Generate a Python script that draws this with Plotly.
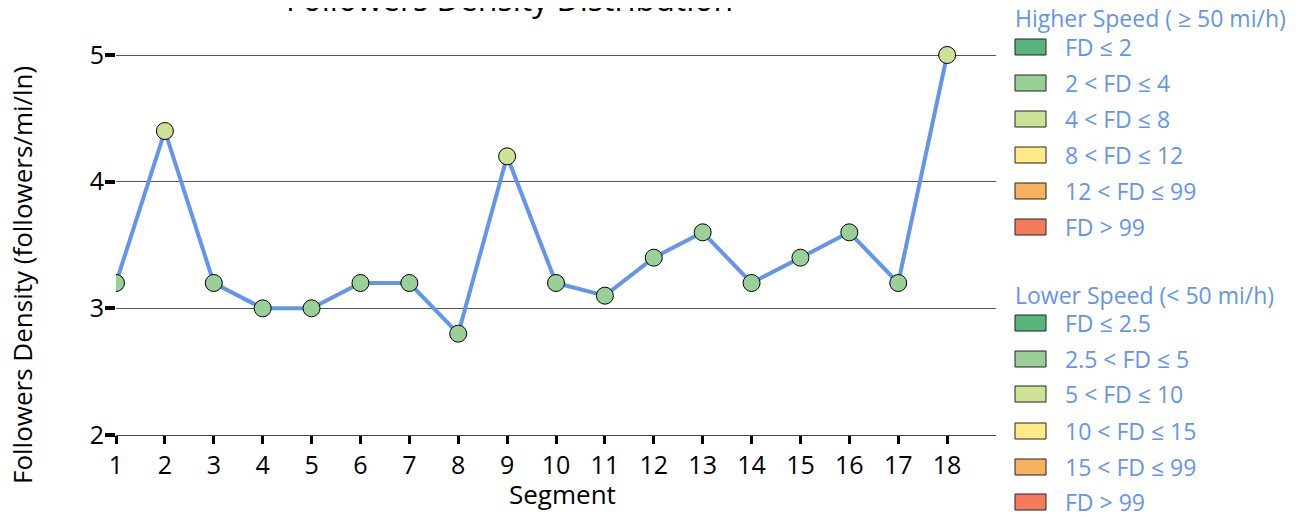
import plotly.graph_objects as go

segments = list(range(1, 19))
followers_density = [3.2, 4.4, 3.2, 3.0, 3.0, 3.2, 3.2, 2.8, 4.2, 3.2, 3.1, 3.4, 3.6, 3.2, 3.4, 3.6, 3.2, 5.0]

class_colors = ['#58b47c', '#98d098', '#cde294', '#ffea87', '#f6b260', '#f47a5c']
high_speed_bins = [2, 4, 8, 12, 99]
high_speed_labels = ['FD ≤ 2', '2 < FD ≤ 4', '4 < FD ≤ 8', '8 < FD ≤ 12', '12 < FD ≤ 99', 'FD > 99']
low_speed_labels = ['FD ≤ 2.5', '2.5 < FD ≤ 5', '5 < FD ≤ 10', '10 < FD ≤ 15', '15 < FD ≤ 99', 'FD > 99']

FONT = 'Open Sans'
LEGEND_COLOR = '#6495ED'

# page has an 8px body margin; plot area given in figure pixels
OFF = 8
PL, PR, PT, PB = 116 - OFF, 996 - OFF, 17 - OFF, 435 - OFF


def px_x(p):
    # p is a screen pixel
    return (p - OFF - PL) / (PR - PL)


def px_y(p):
    return (PB - (p - OFF)) / (PB - PT)


def fd_color(v):
    for i, b in enumerate(high_speed_bins):
        if v <= b:
            return class_colors[i]
    return class_colors[-1]


marker_colors = [fd_color(v) for v in followers_density]

fig = go.Figure()
fig.add_trace(go.Scatter(
    x=segments, y=followers_density, mode='lines+markers',
    line=dict(color='#6495ED', width=4),
    marker=dict(size=17, color=marker_colors, line=dict(color='black', width=1)),
    showlegend=False,
))

shapes = []
annotations = []


def legend_group(title, labels, title_y, item_ys):
    annotations.append(dict(
        x=px_x(1013), y=px_y(title_y), xref='paper', yref='paper',
        text=title, showarrow=False, xanchor='left', yanchor='middle',
        font=dict(family=FONT, size=23, color=LEGEND_COLOR)))
    for lab, col, cy in zip(labels, class_colors, item_ys):
        shapes.append(dict(
            type='rect', xref='paper', yref='paper',
            x0=px_x(1015), x1=px_x(1046), y0=px_y(cy - 8), y1=px_y(cy + 8),
            fillcolor=col, line=dict(color='#222', width=1)))
        annotations.append(dict(
            x=px_x(1063), y=px_y(cy), xref='paper', yref='paper',
            text=lab, showarrow=False, xanchor='left', yanchor='middle',
            font=dict(family=FONT, size=23, color=LEGEND_COLOR)))


legend_group('Higher Speed ( ≥ 50 mi/h)', high_speed_labels, 18, [47, 83, 119, 155, 191, 227])
legend_group('Lower Speed (< 50 mi/h)', low_speed_labels, 295, [323, 359, 394, 431, 467, 502])

annotations.append(dict(
    x=px_x(509), y=px_y(-2), xref='paper', yref='paper',
    text='Followers Density Distribution', showarrow=False,
    xanchor='center', yanchor='middle',
    font=dict(family=FONT, size=32, color='black')))
annotations.append(dict(
    x=px_x(562), y=px_y(494), xref='paper', yref='paper',
    text='Segment', showarrow=False,
    xanchor='center', yanchor='middle',
    font=dict(family=FONT, size=26, color='black')))
annotations.append(dict(
    x=px_x(22), y=px_y(275), xref='paper', yref='paper',
    text='Followers Density (followers/mi/ln)', showarrow=False, textangle=-90,
    xanchor='center', yanchor='middle',
    font=dict(family=FONT, size=26, color='black')))

fig.update_layout(
    width=1301, height=516,
    margin=dict(l=PL, r=1301 - PR, t=PT, b=516 - PB),
    plot_bgcolor='white', paper_bgcolor='white',
    font=dict(family=FONT, size=26, color='black'),
    shapes=shapes, annotations=annotations,
    showlegend=False,
)
fig.update_xaxes(
    range=[1, 19], tickmode='array', tickvals=segments,
    showgrid=False, zeroline=False, automargin=False,
    showline=True, linecolor='#444', linewidth=1,
    ticks='outside', ticklen=8, tickwidth=3, tickcolor='black',
    tickfont=dict(size=25),
)
fig.update_yaxes(
    range=[2, 5.3], tickvals=[2, 3, 4, 5],
    showgrid=True, gridcolor='#555', gridwidth=1, zeroline=False, automargin=False,
    ticks='outside', ticklen=10, tickwidth=4, tickcolor='black',
    tickfont=dict(size=25), ticklabelstandoff=-4,
)

fig.write_html('out.html')
